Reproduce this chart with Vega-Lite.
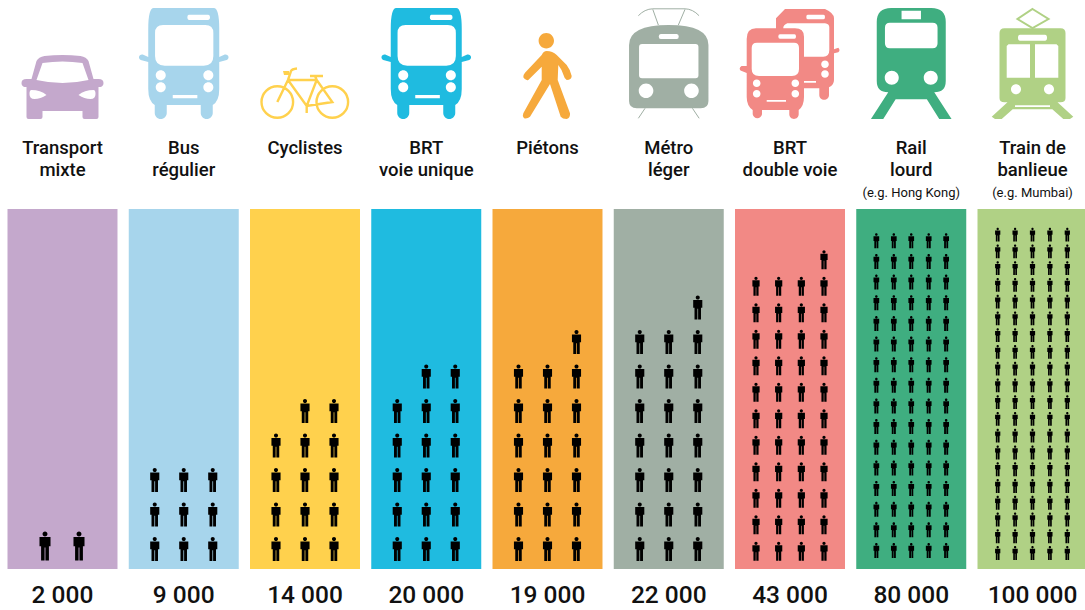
{"$schema":"https://vega.github.io/schema/vega-lite/v6.json","width":1085,"height":610,"padding":0,"autosize":{"type":"none"},"background":"white","config":{"view":{"stroke":null}},
"datasets":{
"modes":[{"mode":"Transport mixte","value":2000,"label":"2 000"},{"mode":"Bus régulier","value":9000,"label":"9 000"},{"mode":"Cyclistes","value":14000,"label":"14 000"},{"mode":"BRT voie unique","value":20000,"label":"20 000"},{"mode":"Piétons","value":19000,"label":"19 000"},{"mode":"Métro léger","value":22000,"label":"22 000"},{"mode":"BRT double voie","value":43000,"label":"43 000"},{"mode":"Rail lourd","value":80000,"label":"80 000"},{"mode":"Train de banlieue","value":100000,"label":"100 000"}],
"heads":[{"mode":"Transport mixte","line":1,"text":"Transport"},{"mode":"Transport mixte","line":2,"text":"mixte"},{"mode":"Bus régulier","line":1,"text":"Bus"},{"mode":"Bus régulier","line":2,"text":"régulier"},{"mode":"Cyclistes","line":1,"text":"Cyclistes"},{"mode":"BRT voie unique","line":1,"text":"BRT"},{"mode":"BRT voie unique","line":2,"text":"voie unique"},{"mode":"Piétons","line":1,"text":"Piétons"},{"mode":"Métro léger","line":1,"text":"Métro"},{"mode":"Métro léger","line":2,"text":"léger"},{"mode":"BRT double voie","line":1,"text":"BRT"},{"mode":"BRT double voie","line":2,"text":"double voie"},{"mode":"Rail lourd","line":1,"text":"Rail"},{"mode":"Rail lourd","line":2,"text":"lourd"},{"mode":"Train de banlieue","line":1,"text":"Train de"},{"mode":"Train de banlieue","line":2,"text":"banlieue"}],
"notes":[{"mode":"Rail lourd","text":"(e.g. Hong Kong)"},{"mode":"Train de banlieue","text":"(e.g. Mumbai)"}],
"people2":[{"mode":"Transport mixte","col":1,"row":1},{"mode":"Transport mixte","col":2,"row":1}],
"people3":[
{"mode":"Bus régulier","col":1,"row":1},{"mode":"Bus régulier","col":1,"row":2},{"mode":"Bus régulier","col":1,"row":3},{"mode":"Bus régulier","col":2,"row":1},{"mode":"Bus régulier","col":2,"row":2},{"mode":"Bus régulier","col":2,"row":3},{"mode":"Bus régulier","col":3,"row":1},{"mode":"Bus régulier","col":3,"row":2},{"mode":"Bus régulier","col":3,"row":3},
{"mode":"Cyclistes","col":1,"row":1},{"mode":"Cyclistes","col":1,"row":2},{"mode":"Cyclistes","col":1,"row":3},{"mode":"Cyclistes","col":1,"row":4},{"mode":"Cyclistes","col":2,"row":1},{"mode":"Cyclistes","col":2,"row":2},{"mode":"Cyclistes","col":2,"row":3},{"mode":"Cyclistes","col":2,"row":4},{"mode":"Cyclistes","col":2,"row":5},{"mode":"Cyclistes","col":3,"row":1},{"mode":"Cyclistes","col":3,"row":2},{"mode":"Cyclistes","col":3,"row":3},{"mode":"Cyclistes","col":3,"row":4},{"mode":"Cyclistes","col":3,"row":5},
{"mode":"BRT voie unique","col":1,"row":1},{"mode":"BRT voie unique","col":1,"row":2},{"mode":"BRT voie unique","col":1,"row":3},{"mode":"BRT voie unique","col":1,"row":4},{"mode":"BRT voie unique","col":1,"row":5},{"mode":"BRT voie unique","col":2,"row":1},{"mode":"BRT voie unique","col":2,"row":2},{"mode":"BRT voie unique","col":2,"row":3},{"mode":"BRT voie unique","col":2,"row":4},{"mode":"BRT voie unique","col":2,"row":5},{"mode":"BRT voie unique","col":2,"row":6},{"mode":"BRT voie unique","col":3,"row":1},{"mode":"BRT voie unique","col":3,"row":2},{"mode":"BRT voie unique","col":3,"row":3},{"mode":"BRT voie unique","col":3,"row":4},{"mode":"BRT voie unique","col":3,"row":5},{"mode":"BRT voie unique","col":3,"row":6},
{"mode":"Piétons","col":1,"row":1},{"mode":"Piétons","col":1,"row":2},{"mode":"Piétons","col":1,"row":3},{"mode":"Piétons","col":1,"row":4},{"mode":"Piétons","col":1,"row":5},{"mode":"Piétons","col":1,"row":6},{"mode":"Piétons","col":2,"row":1},{"mode":"Piétons","col":2,"row":2},{"mode":"Piétons","col":2,"row":3},{"mode":"Piétons","col":2,"row":4},{"mode":"Piétons","col":2,"row":5},{"mode":"Piétons","col":2,"row":6},{"mode":"Piétons","col":3,"row":1},{"mode":"Piétons","col":3,"row":2},{"mode":"Piétons","col":3,"row":3},{"mode":"Piétons","col":3,"row":4},{"mode":"Piétons","col":3,"row":5},{"mode":"Piétons","col":3,"row":6},{"mode":"Piétons","col":3,"row":7},
{"mode":"Métro léger","col":1,"row":1},{"mode":"Métro léger","col":1,"row":2},{"mode":"Métro léger","col":1,"row":3},{"mode":"Métro léger","col":1,"row":4},{"mode":"Métro léger","col":1,"row":5},{"mode":"Métro léger","col":1,"row":6},{"mode":"Métro léger","col":1,"row":7},{"mode":"Métro léger","col":2,"row":1},{"mode":"Métro léger","col":2,"row":2},{"mode":"Métro léger","col":2,"row":3},{"mode":"Métro léger","col":2,"row":4},{"mode":"Métro léger","col":2,"row":5},{"mode":"Métro léger","col":2,"row":6},{"mode":"Métro léger","col":2,"row":7},{"mode":"Métro léger","col":3,"row":1},{"mode":"Métro léger","col":3,"row":2},{"mode":"Métro léger","col":3,"row":3},{"mode":"Métro léger","col":3,"row":4},{"mode":"Métro léger","col":3,"row":5},{"mode":"Métro léger","col":3,"row":6},{"mode":"Métro léger","col":3,"row":7},{"mode":"Métro léger","col":3,"row":8}],
"people4":[
{"mode":"BRT double voie","col":1,"row":1},{"mode":"BRT double voie","col":1,"row":2},{"mode":"BRT double voie","col":1,"row":3},{"mode":"BRT double voie","col":1,"row":4},{"mode":"BRT double voie","col":1,"row":5},{"mode":"BRT double voie","col":1,"row":6},{"mode":"BRT double voie","col":1,"row":7},{"mode":"BRT double voie","col":1,"row":8},{"mode":"BRT double voie","col":1,"row":9},{"mode":"BRT double voie","col":1,"row":10},{"mode":"BRT double voie","col":1,"row":11},
{"mode":"BRT double voie","col":2,"row":1},{"mode":"BRT double voie","col":2,"row":2},{"mode":"BRT double voie","col":2,"row":3},{"mode":"BRT double voie","col":2,"row":4},{"mode":"BRT double voie","col":2,"row":5},{"mode":"BRT double voie","col":2,"row":6},{"mode":"BRT double voie","col":2,"row":7},{"mode":"BRT double voie","col":2,"row":8},{"mode":"BRT double voie","col":2,"row":9},{"mode":"BRT double voie","col":2,"row":10},{"mode":"BRT double voie","col":2,"row":11},
{"mode":"BRT double voie","col":3,"row":1},{"mode":"BRT double voie","col":3,"row":2},{"mode":"BRT double voie","col":3,"row":3},{"mode":"BRT double voie","col":3,"row":4},{"mode":"BRT double voie","col":3,"row":5},{"mode":"BRT double voie","col":3,"row":6},{"mode":"BRT double voie","col":3,"row":7},{"mode":"BRT double voie","col":3,"row":8},{"mode":"BRT double voie","col":3,"row":9},{"mode":"BRT double voie","col":3,"row":10},{"mode":"BRT double voie","col":3,"row":11},
{"mode":"BRT double voie","col":4,"row":1},{"mode":"BRT double voie","col":4,"row":2},{"mode":"BRT double voie","col":4,"row":3},{"mode":"BRT double voie","col":4,"row":4},{"mode":"BRT double voie","col":4,"row":5},{"mode":"BRT double voie","col":4,"row":6},{"mode":"BRT double voie","col":4,"row":7},{"mode":"BRT double voie","col":4,"row":8},{"mode":"BRT double voie","col":4,"row":9},{"mode":"BRT double voie","col":4,"row":10},{"mode":"BRT double voie","col":4,"row":11},{"mode":"BRT double voie","col":4,"row":12}],
"peopleRail":[
{"mode":"Rail lourd","col":1,"row":1},{"mode":"Rail lourd","col":1,"row":2},{"mode":"Rail lourd","col":1,"row":3},{"mode":"Rail lourd","col":1,"row":4},{"mode":"Rail lourd","col":1,"row":5},{"mode":"Rail lourd","col":1,"row":6},{"mode":"Rail lourd","col":1,"row":7},{"mode":"Rail lourd","col":1,"row":8},{"mode":"Rail lourd","col":1,"row":9},{"mode":"Rail lourd","col":1,"row":10},{"mode":"Rail lourd","col":1,"row":11},{"mode":"Rail lourd","col":1,"row":12},{"mode":"Rail lourd","col":1,"row":13},{"mode":"Rail lourd","col":1,"row":14},{"mode":"Rail lourd","col":1,"row":15},{"mode":"Rail lourd","col":1,"row":16},
{"mode":"Rail lourd","col":2,"row":1},{"mode":"Rail lourd","col":2,"row":2},{"mode":"Rail lourd","col":2,"row":3},{"mode":"Rail lourd","col":2,"row":4},{"mode":"Rail lourd","col":2,"row":5},{"mode":"Rail lourd","col":2,"row":6},{"mode":"Rail lourd","col":2,"row":7},{"mode":"Rail lourd","col":2,"row":8},{"mode":"Rail lourd","col":2,"row":9},{"mode":"Rail lourd","col":2,"row":10},{"mode":"Rail lourd","col":2,"row":11},{"mode":"Rail lourd","col":2,"row":12},{"mode":"Rail lourd","col":2,"row":13},{"mode":"Rail lourd","col":2,"row":14},{"mode":"Rail lourd","col":2,"row":15},{"mode":"Rail lourd","col":2,"row":16},
{"mode":"Rail lourd","col":3,"row":1},{"mode":"Rail lourd","col":3,"row":2},{"mode":"Rail lourd","col":3,"row":3},{"mode":"Rail lourd","col":3,"row":4},{"mode":"Rail lourd","col":3,"row":5},{"mode":"Rail lourd","col":3,"row":6},{"mode":"Rail lourd","col":3,"row":7},{"mode":"Rail lourd","col":3,"row":8},{"mode":"Rail lourd","col":3,"row":9},{"mode":"Rail lourd","col":3,"row":10},{"mode":"Rail lourd","col":3,"row":11},{"mode":"Rail lourd","col":3,"row":12},{"mode":"Rail lourd","col":3,"row":13},{"mode":"Rail lourd","col":3,"row":14},{"mode":"Rail lourd","col":3,"row":15},{"mode":"Rail lourd","col":3,"row":16},
{"mode":"Rail lourd","col":4,"row":1},{"mode":"Rail lourd","col":4,"row":2},{"mode":"Rail lourd","col":4,"row":3},{"mode":"Rail lourd","col":4,"row":4},{"mode":"Rail lourd","col":4,"row":5},{"mode":"Rail lourd","col":4,"row":6},{"mode":"Rail lourd","col":4,"row":7},{"mode":"Rail lourd","col":4,"row":8},{"mode":"Rail lourd","col":4,"row":9},{"mode":"Rail lourd","col":4,"row":10},{"mode":"Rail lourd","col":4,"row":11},{"mode":"Rail lourd","col":4,"row":12},{"mode":"Rail lourd","col":4,"row":13},{"mode":"Rail lourd","col":4,"row":14},{"mode":"Rail lourd","col":4,"row":15},{"mode":"Rail lourd","col":4,"row":16},
{"mode":"Rail lourd","col":5,"row":1},{"mode":"Rail lourd","col":5,"row":2},{"mode":"Rail lourd","col":5,"row":3},{"mode":"Rail lourd","col":5,"row":4},{"mode":"Rail lourd","col":5,"row":5},{"mode":"Rail lourd","col":5,"row":6},{"mode":"Rail lourd","col":5,"row":7},{"mode":"Rail lourd","col":5,"row":8},{"mode":"Rail lourd","col":5,"row":9},{"mode":"Rail lourd","col":5,"row":10},{"mode":"Rail lourd","col":5,"row":11},{"mode":"Rail lourd","col":5,"row":12},{"mode":"Rail lourd","col":5,"row":13},{"mode":"Rail lourd","col":5,"row":14},{"mode":"Rail lourd","col":5,"row":15},{"mode":"Rail lourd","col":5,"row":16}],
"peopleTrain":[
{"mode":"Train de banlieue","col":1,"row":1},{"mode":"Train de banlieue","col":1,"row":2},{"mode":"Train de banlieue","col":1,"row":3},{"mode":"Train de banlieue","col":1,"row":4},{"mode":"Train de banlieue","col":1,"row":5},{"mode":"Train de banlieue","col":1,"row":6},{"mode":"Train de banlieue","col":1,"row":7},{"mode":"Train de banlieue","col":1,"row":8},{"mode":"Train de banlieue","col":1,"row":9},{"mode":"Train de banlieue","col":1,"row":10},{"mode":"Train de banlieue","col":1,"row":11},{"mode":"Train de banlieue","col":1,"row":12},{"mode":"Train de banlieue","col":1,"row":13},{"mode":"Train de banlieue","col":1,"row":14},{"mode":"Train de banlieue","col":1,"row":15},{"mode":"Train de banlieue","col":1,"row":16},{"mode":"Train de banlieue","col":1,"row":17},{"mode":"Train de banlieue","col":1,"row":18},{"mode":"Train de banlieue","col":1,"row":19},{"mode":"Train de banlieue","col":1,"row":20},
{"mode":"Train de banlieue","col":2,"row":1},{"mode":"Train de banlieue","col":2,"row":2},{"mode":"Train de banlieue","col":2,"row":3},{"mode":"Train de banlieue","col":2,"row":4},{"mode":"Train de banlieue","col":2,"row":5},{"mode":"Train de banlieue","col":2,"row":6},{"mode":"Train de banlieue","col":2,"row":7},{"mode":"Train de banlieue","col":2,"row":8},{"mode":"Train de banlieue","col":2,"row":9},{"mode":"Train de banlieue","col":2,"row":10},{"mode":"Train de banlieue","col":2,"row":11},{"mode":"Train de banlieue","col":2,"row":12},{"mode":"Train de banlieue","col":2,"row":13},{"mode":"Train de banlieue","col":2,"row":14},{"mode":"Train de banlieue","col":2,"row":15},{"mode":"Train de banlieue","col":2,"row":16},{"mode":"Train de banlieue","col":2,"row":17},{"mode":"Train de banlieue","col":2,"row":18},{"mode":"Train de banlieue","col":2,"row":19},{"mode":"Train de banlieue","col":2,"row":20},
{"mode":"Train de banlieue","col":3,"row":1},{"mode":"Train de banlieue","col":3,"row":2},{"mode":"Train de banlieue","col":3,"row":3},{"mode":"Train de banlieue","col":3,"row":4},{"mode":"Train de banlieue","col":3,"row":5},{"mode":"Train de banlieue","col":3,"row":6},{"mode":"Train de banlieue","col":3,"row":7},{"mode":"Train de banlieue","col":3,"row":8},{"mode":"Train de banlieue","col":3,"row":9},{"mode":"Train de banlieue","col":3,"row":10},{"mode":"Train de banlieue","col":3,"row":11},{"mode":"Train de banlieue","col":3,"row":12},{"mode":"Train de banlieue","col":3,"row":13},{"mode":"Train de banlieue","col":3,"row":14},{"mode":"Train de banlieue","col":3,"row":15},{"mode":"Train de banlieue","col":3,"row":16},{"mode":"Train de banlieue","col":3,"row":17},{"mode":"Train de banlieue","col":3,"row":18},{"mode":"Train de banlieue","col":3,"row":19},{"mode":"Train de banlieue","col":3,"row":20},
{"mode":"Train de banlieue","col":4,"row":1},{"mode":"Train de banlieue","col":4,"row":2},{"mode":"Train de banlieue","col":4,"row":3},{"mode":"Train de banlieue","col":4,"row":4},{"mode":"Train de banlieue","col":4,"row":5},{"mode":"Train de banlieue","col":4,"row":6},{"mode":"Train de banlieue","col":4,"row":7},{"mode":"Train de banlieue","col":4,"row":8},{"mode":"Train de banlieue","col":4,"row":9},{"mode":"Train de banlieue","col":4,"row":10},{"mode":"Train de banlieue","col":4,"row":11},{"mode":"Train de banlieue","col":4,"row":12},{"mode":"Train de banlieue","col":4,"row":13},{"mode":"Train de banlieue","col":4,"row":14},{"mode":"Train de banlieue","col":4,"row":15},{"mode":"Train de banlieue","col":4,"row":16},{"mode":"Train de banlieue","col":4,"row":17},{"mode":"Train de banlieue","col":4,"row":18},{"mode":"Train de banlieue","col":4,"row":19},{"mode":"Train de banlieue","col":4,"row":20},
{"mode":"Train de banlieue","col":5,"row":1},{"mode":"Train de banlieue","col":5,"row":2},{"mode":"Train de banlieue","col":5,"row":3},{"mode":"Train de banlieue","col":5,"row":4},{"mode":"Train de banlieue","col":5,"row":5},{"mode":"Train de banlieue","col":5,"row":6},{"mode":"Train de banlieue","col":5,"row":7},{"mode":"Train de banlieue","col":5,"row":8},{"mode":"Train de banlieue","col":5,"row":9},{"mode":"Train de banlieue","col":5,"row":10},{"mode":"Train de banlieue","col":5,"row":11},{"mode":"Train de banlieue","col":5,"row":12},{"mode":"Train de banlieue","col":5,"row":13},{"mode":"Train de banlieue","col":5,"row":14},{"mode":"Train de banlieue","col":5,"row":15},{"mode":"Train de banlieue","col":5,"row":16},{"mode":"Train de banlieue","col":5,"row":17},{"mode":"Train de banlieue","col":5,"row":18},{"mode":"Train de banlieue","col":5,"row":19},{"mode":"Train de banlieue","col":5,"row":20}]
},
"encoding":{"x":{"field":"mode","type":"nominal","axis":null,"scale":{"type":"band","domain":["Transport mixte","Bus régulier","Cyclistes","BRT voie unique","Piétons","Métro léger","BRT double voie","Rail lourd","Train de banlieue"],"range":[7.5,1087.5],"paddingInner":0.0928,"paddingOuter":0}}},
"resolve":{"scale":{"y":"independent","xOffset":"independent"}},
"layer":[
{"data":{"name":"modes"},"mark":{"type":"bar"},"encoding":{"y":{"datum":0,"type":"quantitative","axis":null,"scale":{"domain":[0,1],"range":[569,209]}},"y2":{"datum":1},"color":{"field":"mode","type":"nominal","legend":null,"scale":{"domain":["Transport mixte","Bus régulier","Cyclistes","BRT voie unique","Piétons","Métro léger","BRT double voie","Rail lourd","Train de banlieue"],"range":["#C4A8CC","#A7D5EC","#FFD14D","#1FBBE0","#F6A93C","#A0AFA4","#F28985","#3FAE80","#B0D185"]}}}},
{"data":{"name":"modes"},"mark":{"type":"point","filled":true,"opacity":1,"size":4},"encoding":{"y":{"datum":1.25,"type":"quantitative","axis":null,"scale":{"domain":[0,1],"range":[569,209]}},"color":{"field":"mode","type":"nominal","legend":null},"shape":{"field":"mode","type":"nominal","legend":null,"scale":{"domain":["Transport mixte","Bus régulier","Cyclistes","BRT voie unique","Piétons","Métro léger","BRT double voie","Rail lourd","Train de banlieue"],"range":[
"M-36,-2Q-36,0 -34,0H-22Q-20,0 -20,-2V-8H20V-2Q20,0 22,0H34Q36,0 36,-2V-32H38Q41,-33 41,-36Q41,-40 36,-40H31L26,-58Q24,-62 18,-63Q0,-65 -18,-63Q-24,-62 -26,-58L-31,-40H-36Q-41,-40 -41,-36Q-41,-33 -38,-32H-36ZM-20,-56Q0,-59 20,-56L26,-39Q0,-33 -26,-39ZM-31,-29Q-22,-29 -16,-24Q-22,-20 -28,-20Q-33,-20 -33,-25Q-33,-29 -31,-29ZM16,-24Q22,-29 31,-29Q33,-29 33,-25Q33,-20 28,-20Q22,-20 16,-24Z",
"M-29,-6A6,6 0 0 0 -17,-6V-14H17V-6A6,6 0 0 0 29,-6V-14Q35.5,-18 35.5,-30V-57L43,-59Q45.5,-60.5 44.5,-63Q43.5,-65 41,-64.5L35.5,-62V-90Q35.5,-111 30,-111H-30Q-35.5,-111 -35.5,-90V-62L-41,-64.5Q-43.5,-65 -44.5,-63Q-45.5,-60.5 -43,-59L-35.5,-57V-30Q-35.5,-18 -29,-14ZM-20.7,-94H21.6Q29.6,-94 29.6,-86V-63Q29.6,-53.3 20,-53.3H-19Q-28.7,-53.3 -28.7,-63V-86Q-28.7,-94 -20.7,-94ZM5,-104.3H24.5Q26.3,-104.3 26.3,-101.7Q26.3,-99 24.5,-99H5Q3.6,-99 3.6,-101.7Q3.6,-104.3 5,-104.3ZM-28,-43.7A5,5 0 1 1 -18,-43.7A5,5 0 1 1 -28,-43.7ZM-28,-31.7A5,5 0 1 1 -18,-31.7A5,5 0 1 1 -28,-31.7ZM19.6,-43.7A5,5 0 1 1 29.6,-43.7A5,5 0 1 1 19.6,-43.7ZM19.6,-31.7A5,5 0 1 1 29.6,-31.7A5,5 0 1 1 19.6,-31.7ZM-11,-24H13.6V-20.7H-11Z",
"M-22,-48H-16V-44H-21Z",
"M-29,-6A6,6 0 0 0 -17,-6V-14H17V-6A6,6 0 0 0 29,-6V-14Q35.5,-18 35.5,-30V-57L43,-59Q45.5,-60.5 44.5,-63Q43.5,-65 41,-64.5L35.5,-62V-90Q35.5,-111 30,-111H-30Q-35.5,-111 -35.5,-90V-62L-41,-64.5Q-43.5,-65 -44.5,-63Q-45.5,-60.5 -43,-59L-35.5,-57V-30Q-35.5,-18 -29,-14ZM-20.7,-94H21.6Q29.6,-94 29.6,-86V-63Q29.6,-53.3 20,-53.3H-19Q-28.7,-53.3 -28.7,-63V-86Q-28.7,-94 -20.7,-94ZM5,-104.3H24.5Q26.3,-104.3 26.3,-101.7Q26.3,-99 24.5,-99H5Q3.6,-99 3.6,-101.7Q3.6,-104.3 5,-104.3ZM-28,-43.7A5,5 0 1 1 -18,-43.7A5,5 0 1 1 -28,-43.7ZM-28,-31.7A5,5 0 1 1 -18,-31.7A5,5 0 1 1 -28,-31.7ZM19.6,-43.7A5,5 0 1 1 29.6,-43.7A5,5 0 1 1 19.6,-43.7ZM19.6,-31.7A5,5 0 1 1 29.6,-31.7A5,5 0 1 1 19.6,-31.7ZM-11,-24H13.6V-20.7H-11Z",
"M-8.9,-78.3A7.7,7.7 0 1 1 6.5,-78.3A7.7,7.7 0 1 1 -8.9,-78.3ZM-0.8,-68Q5,-68 9.2,-64L19.2,-54Q23,-49 24.2,-43Q24,-39 19.2,-39Q17,-40 16,-44Q14,-50 10.8,-54L10.2,-39L22.5,-5.7Q23,-1 19.2,0Q15,0 13.2,-2.3L2.5,-35L-17.5,-2.3Q-20,0 -23.5,-0.7Q-25.5,-3 -24.2,-5.7L-5.8,-39V-52.3L-19.2,-39Q-22,-38 -24.2,-41.7Q-24.5,-44 -22.5,-46.3L-5.8,-64Q-4,-68 -0.8,-68Z",
"M-39.7,-18Q-39.7,-10.7 -32,-10.7H32Q39.7,-10.7 39.7,-18V-74Q39.7,-94 0,-94Q-39.7,-94 -39.7,-74ZM-26.7,-75H26.7Q29.7,-75 29.7,-72V-43.7Q29.7,-40.7 26.7,-40.7H-26.7Q-29.7,-40.7 -29.7,-43.7V-72Q-29.7,-75 -26.7,-75ZM-8,-85H8Q10,-85 10,-82.5Q10,-80 8,-80H-8Q-10,-80 -10,-82.5Q-10,-85 -8,-85ZM-30,-28.3A7.3,7.3 0 1 1 -15.4,-28.3A7.3,7.3 0 1 1 -30,-28.3ZM15.4,-28.3A7.3,7.3 0 1 1 30,-28.3A7.3,7.3 0 1 1 15.4,-28.3Z",
"M-37.3,-4.7A4.7,4.7 0 0 0 -28,-4.7V-9H-0.7V-4.7A4.7,4.7 0 0 0 8.7,-4.7V-9Q14,-13 14,-22V-82.3Q14,-90.7 5,-90.7H-34Q-43.3,-90.7 -43.3,-80V-53L-48.5,-53Q-51.5,-51 -49.5,-48.5L-43.3,-46V-22Q-43.3,-13 -37.3,-9ZM-33,-76.3H4Q9,-76.3 9,-71V-50Q9,-43 2,-43H-31Q-38.3,-43 -38.3,-50V-71Q-38.3,-76.3 -33,-76.3ZM-10,-84.7H4.5Q6,-84.7 6,-82.5Q6,-80.3 4.5,-80.3H-10Q-11.7,-80.3 -11.7,-82.5Q-11.7,-84.7 -10,-84.7ZM-37.1,-35.7A3.8,3.8 0 1 1 -29.5,-35.7A3.8,3.8 0 1 1 -37.1,-35.7ZM-37.1,-25.3A3.8,3.8 0 1 1 -29.5,-25.3A3.8,3.8 0 1 1 -37.1,-25.3ZM1.5,-35.7A3.8,3.8 0 1 1 9.1,-35.7A3.8,3.8 0 1 1 1.5,-35.7ZM1.5,-25.3A3.8,3.8 0 1 1 9.1,-25.3A3.8,3.8 0 1 1 1.5,-25.3ZM-23.3,-19H-4V-17.3H-23.3ZM-5,-110L-14,-100.7V-90.7H5Q14,-90.7 14,-82.3V-30.7H29.3V-24A4.85,4.85 0 0 0 39,-24V-31.7Q44,-34 44,-39V-65.7L48.3,-66.7Q50.7,-69 48.3,-71.3L44,-69.7V-100.7Q44,-106 35,-110ZM-2.7,-95.7H35Q39.3,-95 39.3,-91.7V-69Q39.3,-62.3 33.3,-62.3H14V-82.3Q14,-90.7 5,-90.7H-6.7Q-7,-94 -2.7,-95.7ZM17.7,-104.3H33.5Q35,-104.3 35,-102Q35,-99.7 33.5,-99.7H17.7Q16.3,-99.7 16.3,-102Q16.3,-104.3 17.7,-104.3ZM31.2,-54.7A3.8,3.8 0 1 1 38.8,-54.7A3.8,3.8 0 1 1 31.2,-54.7ZM31.2,-45A3.8,3.8 0 1 1 38.8,-45A3.8,3.8 0 1 1 31.2,-45ZM14,-38H26V-36.3H14Z",
"M-34.5,-38Q-34.5,-26.7 -23,-26.7L-40.3,0H-28L-15.6,-19.7H15.6L28,0H40.3L23,-26.7Q34.5,-26.7 34.5,-38V-97Q34.5,-111 20,-111H-20Q-34.5,-111 -34.5,-97ZM-9.7,-108.3H9.7V-99.7H-9.7ZM-21.3,-96.3H21.3Q26.3,-96.3 26.3,-91.3V-75.7Q26.3,-70.7 21.3,-70.7H-21.3Q-26.3,-70.7 -26.3,-75.7V-91.3Q-26.3,-96.3 -21.3,-96.3ZM-26.5,-41.3A7,7 0 1 1 -12.5,-41.3A7,7 0 1 1 -26.5,-41.3ZM12.5,-41.3A7,7 0 1 1 26.5,-41.3A7,7 0 1 1 12.5,-41.3Z",
"M-33,-21Q-33,-16.7 -28,-16.7H-25L-40.8,-2.3L-37.5,0H-30.8L-19.8,-9.7H19.8L30.8,0H37.5L40.8,-2.3L25,-16.7H28Q33,-16.7 33,-21V-86Q33,-90.7 28,-90.7H-28Q-33,-90.7 -33,-86ZM-12.5,-84.3H12.5Q14.5,-84.3 14.5,-81.3Q14.5,-78.3 12.5,-78.3H-12.5Q-14.5,-78.3 -14.5,-81.3Q-14.5,-84.3 -12.5,-84.3ZM-24,-74.7H-2.5V-41.3H-25.8V-73ZM2.5,-74.7H24L25.8,-73V-41.3H2.5ZM-21.5,-29.7A5,5 0 1 1 -11.5,-29.7A5,5 0 1 1 -21.5,-29.7ZM11.5,-29.7A5,5 0 1 1 21.5,-29.7A5,5 0 1 1 11.5,-29.7ZM-17.5,-13.7H17.5V-12H-17.5Z"
]}}}},
{"data":{"name":"modes"},"transform":[{"filter":"datum.mode==='Cyclistes'"}],"mark":{"type":"point","filled":false,"opacity":1,"size":4,"strokeWidth":2.4,"shape":"M-43.5,-17A15.8,15.8 0 1 1 -11.9,-17A15.8,15.8 0 1 1 -43.5,-17ZM11.5,-17A15.8,15.8 0 1 1 43.1,-17A15.8,15.8 0 1 1 11.5,-17ZM-27.7,-17L-17,-39H11.7L27.3,-17L1.7,-13L-17,-39M1.7,-13L11.7,-39L10,-43M5,-43H18M-17,-39L-14,-48Q-13,-50 -8,-50.5M1.7,-13V-6"},"encoding":{"y":{"datum":1.25,"type":"quantitative","axis":null,"scale":{"domain":[0,1],"range":[569,209]}},"color":{"field":"mode","type":"nominal","legend":null}}},
{"data":{"name":"modes"},"transform":[{"filter":"datum.mode==='Métro léger'"}],"mark":{"type":"point","filled":false,"opacity":1,"size":4,"strokeWidth":1,"shape":"M-23.7,-10.7L-30.4,-0.7M23.7,-10.7L30.4,-0.7M-10.4,-94L-16,-109.7M9.6,-94L16.3,-109.7M-30.4,-103.3Q-24,-110 -16,-110.2H16.3Q24,-110 30.3,-103.3"},"encoding":{"y":{"datum":1.25,"type":"quantitative","axis":null,"scale":{"domain":[0,1],"range":[569,209]}},"color":{"field":"mode","type":"nominal","legend":null}}},
{"data":{"name":"modes"},"transform":[{"filter":"datum.mode==='Train de banlieue'"}],"mark":{"type":"point","filled":false,"opacity":1,"size":4,"strokeWidth":2,"shape":"M0,-110L16,-100L0,-91L-15,-100Z"},"encoding":{"y":{"datum":1.25,"type":"quantitative","axis":null,"scale":{"domain":[0,1],"range":[569,209]}},"color":{"field":"mode","type":"nominal","legend":null}}},
{"data":{"name":"heads"},"mark":{"type":"text","font":"Roboto","fontWeight":500,"fontSize":18.5,"baseline":"alphabetic","fill":"#111"},"encoding":{"y":{"field":"line","type":"quantitative","axis":null,"scale":{"domain":[1,2],"range":[154,176]}},"text":{"field":"text"}}},
{"data":{"name":"notes"},"mark":{"type":"text","font":"Roboto","fontSize":13,"baseline":"alphabetic","fill":"#111"},"encoding":{"y":{"datum":1.0,"type":"quantitative","axis":null,"scale":{"domain":[0,1],"range":[569,196.5]}},"text":{"field":"text"}}},
{"data":{"name":"modes"},"mark":{"type":"text","font":"Roboto","fontWeight":500,"fontSize":24.5,"baseline":"alphabetic","fill":"#111"},"encoding":{"y":{"datum":-0.0936,"type":"quantitative","axis":null,"scale":{"domain":[0,1],"range":[569,209]}},"text":{"field":"label"}}},
{"data":{"name":"people2"},"mark":{"type":"point","filled":true,"opacity":1,"size":841,"color":"#000","shape":"M0,-1A.17,.17 0 1 1 0,-.66A.17,.17 0 1 1 0,-1ZM-.38,-.62H.38V.02H.27V1H.03V.1H-.03V1H-.27V.02H-.38Z"},"encoding":{"xOffset":{"field":"col","type":"ordinal","scale":{"type":"point","domain":[1,2],"range":[37.5,71.5],"padding":0}},"y":{"field":"row","type":"quantitative","axis":null,"scale":{"domain":[1,2],"range":[546,512]}}}},
{"data":{"name":"people3"},"mark":{"type":"point","filled":true,"opacity":1,"size":576,"color":"#000","shape":"M0,-1A.17,.17 0 1 1 0,-.66A.17,.17 0 1 1 0,-1ZM-.38,-.62H.38V.02H.27V1H.03V.1H-.03V1H-.27V.02H-.38Z"},"encoding":{"xOffset":{"field":"col","type":"ordinal","scale":{"type":"point","domain":[1,2,3],"range":[26,84],"padding":0}},"y":{"field":"row","type":"quantitative","axis":null,"scale":{"domain":[1,8],"range":[549,307.5]}}}},
{"data":{"name":"people4"},"mark":{"type":"point","filled":true,"opacity":1,"size":361,"color":"#000","shape":"M0,-1A.17,.17 0 1 1 0,-.66A.17,.17 0 1 1 0,-1ZM-.38,-.62H.38V.02H.27V1H.03V.1H-.03V1H-.27V.02H-.38Z"},"encoding":{"xOffset":{"field":"col","type":"ordinal","scale":{"type":"point","domain":[1,2,3,4],"range":[21,89],"padding":0}},"y":{"field":"row","type":"quantitative","axis":null,"scale":{"domain":[1,12],"range":[551.2,259.7]}}}},
{"data":{"name":"peopleRail"},"mark":{"type":"point","filled":true,"opacity":1,"size":225,"color":"#000","shape":"M0,-1A.17,.17 0 1 1 0,-.66A.17,.17 0 1 1 0,-1ZM-.38,-.62H.38V.02H.27V1H.03V.1H-.03V1H-.27V.02H-.38Z"},"encoding":{"xOffset":{"field":"col","type":"ordinal","scale":{"type":"point","domain":[1,2,3,4,5],"range":[20.1,89.9],"padding":0}},"y":{"field":"row","type":"quantitative","axis":null,"scale":{"domain":[1,16],"range":[550.5,240.8]}}}},
{"data":{"name":"peopleTrain"},"mark":{"type":"point","filled":true,"opacity":1,"size":190,"color":"#000","shape":"M0,-1A.17,.17 0 1 1 0,-.66A.17,.17 0 1 1 0,-1ZM-.38,-.62H.38V.02H.27V1H.03V.1H-.03V1H-.27V.02H-.38Z"},"encoding":{"xOffset":{"field":"col","type":"ordinal","scale":{"type":"point","domain":[1,2,3,4,5],"range":[20.2,89.8],"padding":0}},"y":{"field":"row","type":"quantitative","axis":null,"scale":{"domain":[1,20],"range":[553,234.7]}}}}
]}
